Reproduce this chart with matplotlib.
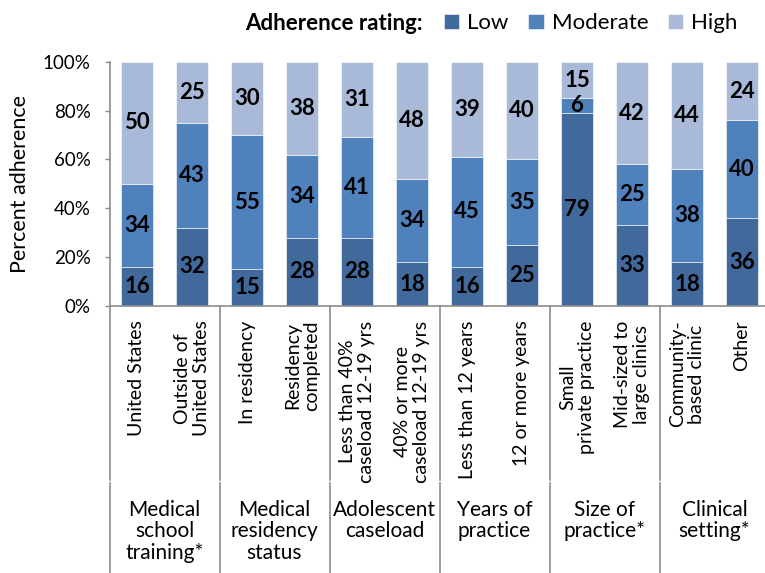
import matplotlib
matplotlib.use('Agg')
import matplotlib.pyplot as plt
from matplotlib.ticker import FuncFormatter
import numpy as np

plt.rcParams['font.family'] = ['Lato', 'DejaVu Sans']

categories = ['United States', 'Outside of\nUnited States',
              'In residency', 'Residency\ncompleted',
              'Less than 40%\ncaseload 12-19 yrs', '40% or more\ncaseload 12-19 yrs',
              'Less than 12 years', '12 or more years',
              'Small\nprivate practice', 'Mid-sized to\nlarge clinics',
              'Community-\nbased clinic', 'Other']
groups = ['Medical\nschool\ntraining*', 'Medical\nresidency\nstatus',
          'Adolescent\ncaseload', 'Years of\npractice',
          'Size of\npractice*', 'Clinical\nsetting*']
low = [16, 32, 15, 28, 28, 18, 16, 25, 79, 33, 18, 36]
moderate = [34, 43, 55, 34, 41, 34, 45, 35, 6, 25, 38, 40]
high = [50, 25, 30, 38, 31, 48, 39, 40, 15, 42, 44, 24]

c_low, c_mod, c_high = '#41699b', '#4f81bd', '#a9b9d8'
grey = '#8c8c8c'

fig = plt.figure(figsize=(7.65, 5.73), dpi=100)
ax = fig.add_axes([109.5 / 765, 1 - 306 / 573, 660 / 765, 244.3 / 573])

x = np.arange(len(categories))
w = 0.576
low = np.array(low)
moderate = np.array(moderate)
high = np.array(high)
b1 = ax.bar(x, low, w, color=c_low, edgecolor='white', linewidth=0.4, label='Low')
b2 = ax.bar(x, moderate, w, bottom=low, color=c_mod, edgecolor='white', linewidth=0.4, label='Moderate')
b3 = ax.bar(x, high, w, bottom=low + moderate, color=c_high, edgecolor='white', linewidth=0.4, label='High')
for b in (b1, b2, b3):
    ax.bar_label(b, label_type='center', fontsize=16, fontweight='bold', color='black')

ax.set_xlim(-0.5, 11.5)
ax.set_ylim(0, 100)
ax.set_yticks(np.arange(0, 101, 20))
ax.yaxis.set_major_formatter(FuncFormatter(lambda v, p: f'{int(v)}%'))
ax.tick_params(axis='y', length=3.6, width=1, color=grey, pad=10, labelsize=13.5)
ax.set_xticks(x, categories, rotation=90)
ax.tick_params(axis='x', length=0, pad=10.5, labelsize=14)
for t in ax.get_xticklabels():
    t.set_multialignment('center')
    t.set_linespacing(1.15)
ax.set_ylabel('Percent adherence', fontsize=15.5)
ax.yaxis.set_label_coords(-0.12, 0.5)

for s in ['top', 'right']:
    ax.spines[s].set_visible(False)
for s in ['left', 'bottom']:
    ax.spines[s].set_color(grey)
    ax.spines[s].set_linewidth(1.2)

# group separators below the axis
for xs in [-0.5, 1.5, 3.5, 5.5, 7.5, 9.5, 11.5]:
    ax.axvline(xs, ymin=-174 / 244.3, ymax=0, color=grey, lw=1.2, clip_on=False)
    ax.axvline(xs, ymin=-270 / 244.3, ymax=-177 / 244.3, color=grey, lw=1.2, clip_on=False)

for i, g in enumerate(groups):
    ax.annotate(g, xy=(2 * i + 0.5, 0), xycoords=('data', 'axes fraction'),
                xytext=(0, -194), textcoords='offset pixels',
                ha='center', va='top', fontsize=15, linespacing=1.08)

fig.text(423 / 765, 1 - 23 / 573, 'Adherence rating:', ha='right', va='center',
         fontsize=16, fontweight='bold')
fig.legend(handles=[b1, b2, b3], loc='center left', bbox_to_anchor=(444 / 765, 1 - 23 / 573),
           ncol=3, frameon=False, fontsize=16, handlelength=0.68, handleheight=0.68,
           handletextpad=0.36, columnspacing=0.9, borderpad=0, borderaxespad=0)

fig.savefig('out.png', dpi=100)
